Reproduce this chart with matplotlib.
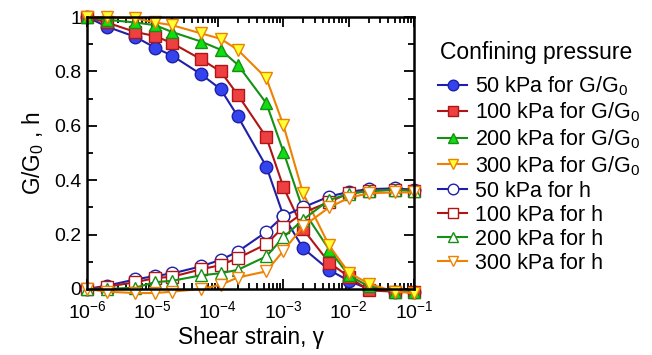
import numpy as np
import matplotlib
matplotlib.use('Agg')
import matplotlib.pyplot as plt
from matplotlib.ticker import LogLocator, MultipleLocator, NullFormatter

plt.rcParams['font.family'] = ['Liberation Sans', 'DejaVu Sans']
plt.rcParams['mathtext.fontset'] = 'custom'
plt.rcParams['mathtext.rm'] = 'Liberation Sans'

# shear strain
strain = [1e-6, 2e-6, 5.5e-6, 1.1e-5, 2e-5, 5.5e-5, 1.1e-4, 2e-4,
          5.5e-4, 1e-3, 2e-3, 5e-3, 1e-2, 2e-2, 5e-2, 1e-1]

# G/G0 for each confining pressure
g50 = [1.0, 0.965, 0.927, 0.887, 0.858, 0.79, 0.735, 0.636,
       0.45, 0.27, 0.15, 0.07, 0.03, 0.0, -0.01, -0.01]
g100 = [1.0, 0.98, 0.945, 0.93, 0.904, 0.845, 0.80, 0.715,
        0.558, 0.375, 0.22, 0.097, 0.045, -0.005, -0.01, -0.012]
g200 = [1.0, 0.99, 0.98, 0.97, 0.945, 0.91, 0.88, 0.825,
        0.683, 0.505, 0.29, 0.145, 0.05, 0.01, -0.01, -0.012]
g300 = [1.0, 1.0, 0.995, 0.98, 0.97, 0.94, 0.92, 0.88,
        0.775, 0.603, 0.352, 0.16, 0.06, 0.02, -0.01, -0.015]

# damping ratio h
h50 = [0.0, 0.012, 0.035, 0.048, 0.057, 0.083, 0.107, 0.137,
       0.21, 0.268, 0.30, 0.34, 0.357, 0.367, 0.37, 0.365]
h100 = [0.0, 0.008, 0.025, 0.04, 0.045, 0.072, 0.088, 0.113,
        0.165, 0.228, 0.28, 0.32, 0.352, 0.36, 0.365, 0.362]
h200 = [0.0, 0.0, 0.005, 0.025, 0.03, 0.05, 0.058, 0.07,
        0.12, 0.19, 0.255, 0.327, 0.35, 0.36, 0.365, 0.36]
h300 = [0.0, -0.01, -0.015, -0.015, -0.01, 0.0, 0.015, 0.042,
        0.065, 0.14, 0.23, 0.30, 0.335, 0.352, 0.355, 0.355]

labels_p = ['50 kPa', '100 kPa', '200 kPa', '300 kPa']
markers = ['o', 's', '^', 'v']
line_col = ['#1f1fa8', '#b01515', '#159015', '#ee8200']
fill_col = ['#3344ee', '#ee4040', '#11dd11', '#ffff33']

fig = plt.figure(figsize=(6.52, 3.55), dpi=100)
ax = fig.add_axes([0.1334, 0.186, 0.502, 0.766])

gs = [g50, g100, g200, g300]
hs = [h50, h100, h200, h300]
for i in range(4):
    ax.plot(strain, gs[i], marker=markers[i], color=line_col[i], mfc=fill_col[i],
            mec=line_col[i], ms=9, lw=1.5, mew=1.0, clip_on=False,
            label=labels_p[i] + ' for G/G$_0$')
for i in range(4):
    ax.plot(strain, hs[i], marker=markers[i], color=line_col[i], mfc='white',
            mec=line_col[i], ms=9, lw=1.5, mew=1.0, clip_on=False,
            label=labels_p[i] + ' for h')

ax.set_xscale('log')
ax.set_xlim(1e-6, 1e-1)
ax.set_ylim(0, 1)
ax.xaxis.set_major_locator(LogLocator(base=10, numticks=10))
ax.xaxis.set_minor_locator(LogLocator(base=10, subs=np.arange(2, 10), numticks=20))
ax.xaxis.set_minor_formatter(NullFormatter())
ax.yaxis.set_major_locator(MultipleLocator(0.2))
ax.yaxis.set_minor_locator(MultipleLocator(0.1))
ax.set_yticks([0, 0.2, 0.4, 0.6, 0.8, 1.0])
ax.set_yticklabels(['0', '0.2', '0.4', '0.6', '0.8', '1'])

ax.tick_params(which='both', direction='in', top=True, right=True, labelsize=14, width=1.3)
ax.tick_params(which='major', length=7)
ax.tick_params(which='minor', length=4)
ax.tick_params(axis='x', which='major', pad=8)
ax.tick_params(axis='y', which='major', pad=4)
for s in ax.spines.values():
    s.set_linewidth(1.8)

ax.set_xlabel('Shear strain, γ', fontsize=16.3, labelpad=3)
ax.set_ylabel('G/G$_0$ , h', fontsize=16.3, labelpad=6)

# legend title as separate text, legend entries below it
fig.text(536 / 652, 1 - 52 / 355, 'Confining pressure', fontsize=16.5,
         ha='center', va='center')
leg = ax.legend(loc='upper left', bbox_to_anchor=(1.073, 0.79), frameon=False,
                fontsize=15.5, handlelength=1.35, handletextpad=0.35,
                labelspacing=0.14, markerscale=0.85, borderaxespad=0, borderpad=0)

fig.savefig('out.png', dpi=100)
